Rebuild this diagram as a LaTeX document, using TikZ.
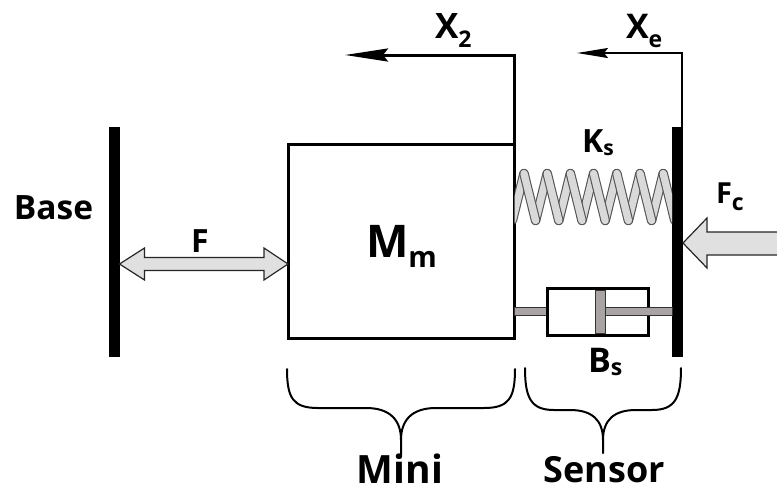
\documentclass[tikz,border=0pt]{standalone}
\usepackage{fontspec}
\setmainfont{Open Sans}
\usetikzlibrary{arrows.meta,calc}
\definecolor{springfill}{HTML}{D9D9D9}
\definecolor{springline}{HTML}{555555}
\definecolor{rodgray}{HTML}{A8A4A4}
\definecolor{arrowfill}{HTML}{E0E0E0}
\newcommand{\lsub}[3]{\raisebox{-#1}{\fontsize{#2}{#2}\selectfont #3}}
\newcommand{\fs}[1]{\fontsize{#1}{#1}\selectfont}
\begin{document}
\begin{tikzpicture}[x=1pt,y=-1pt,
  wall/.style={fill=black,minimum width=11pt,minimum height=230pt,inner sep=0pt,outer sep=0pt},
  lbl/.style={font=\bfseries,inner sep=0pt,outer sep=0pt},
  rod/.style={fill=rodgray,draw=black!80,line width=0.8pt},
  blockarrow/.style={fill=arrowfill,draw=black!85,line width=1.2pt,line join=miter},
  bracestyle/.style={line width=2pt,draw=black,line cap=round},
  coilout/.style={draw=springline,line width=9.5pt,line cap=round},
  coilin/.style={draw=springfill,line width=7.3pt,line cap=round}]
\useasboundingbox (0,0) rectangle (777,491);

% walls and mass
\node[wall] (bwall) at (114,242) {};
\node[wall] (swall) at (677.5,242) {};
\node[draw,line width=3pt,minimum width=226.5pt,minimum height=194pt,inner sep=0pt,outer sep=0pt] (mass) at (401.25,241) {};

% labels
\node[lbl,anchor=base] (baselbl) at (53.5,219) {\fs{33.5}Base};
\node[lbl,anchor=base] (flbl) at (200,252) {\fs{32}F};
\node[lbl,anchor=base west] (mlbl) at (366,257) {\fs{45}M\lsub{10pt}{29}{m}};
\node[lbl,anchor=base west] (kslbl) at (582,152) {\fs{32}K\lsub{3pt}{21}{s}};
\node[lbl,anchor=base west] (bslbl) at (588,372) {\fs{34}B\lsub{3pt}{23}{s}};
\node[lbl,anchor=base west] (fclbl) at (716,203) {\fs{29}F\lsub{7pt}{23}{c}};
\node[lbl,anchor=base west] (x2lbl) at (435,38) {\fs{35}X\lsub{9pt}{23}{2}};
\node[lbl,anchor=base west] (xelbl) at (626,38) {\fs{34}X\lsub{9pt}{23}{e}};
\node[lbl,anchor=base] (minilbl) at (400,483) {\fs{39}Mini};
\node[lbl,anchor=base] (senslbl) at (604,482) {\fs{36}Sensor};

% displacement arrows
\coordinate (x2tip) at (345,55);
\coordinate (xetip) at (577,53);
\draw[line width=3pt,-{Stealth[length=43pt,width=13pt,inset=5pt]}] (mass.north east) |- (x2tip);
\draw[line width=2pt,-{Stealth[length=31pt,width=10pt,inset=4pt]}] ($(swall.north east)+(-1,0)$) |- (xetip);

% spring (ribbon zigzag between mass and sensor wall)
\coordinate (ks1) at (mass.east |- 0,197);
\coordinate (ks2) at (swall.west |- 0,197);
\begin{scope}
  \clip (ks1 |- 0,160) rectangle (ks2 |- 0,235);
  \foreach \k in {0,...,6}{
    \pgfmathsetmacro{\xt}{524+23.2*\k}
    \draw[coilout] (\xt-11.6,220.5) -- (\xt,173.5);
    \draw[coilin] (\xt-11.6,220.5) -- (\xt,173.5);
  }
  \foreach \k in {0,...,6}{
    \pgfmathsetmacro{\xt}{524+23.2*\k}
    \draw[coilout] (\xt,173.5) -- (\xt+11.6,220.5);
    \draw[coilin] (\xt,173.5) -- (\xt+11.6,220.5);
  }
\end{scope}

% damper
\draw[rod] (514.5,307) rectangle (547,315);
\node[draw,line width=3pt,minimum width=101pt,minimum height=47pt,inner sep=0pt,outer sep=0pt] (cyl) at (597.5,311.5) {};
\node[rod,minimum width=10pt,minimum height=43pt,inner sep=0pt] (piston) at (600,311.5) {};
\draw[rod] (piston.east |- 0,307) rectangle (672,315);

% force F (double block arrow)
\coordinate (fl) at (bwall.east |- 0,264);
\coordinate (fr) at (mass.west |- 0,264);
\draw[blockarrow] (fl) -- ++(25,-16) -- ++(0,9.5) -- ($(fr)+(-24,-6.5)$) -- ++(0,-9.5) -- (fr)
  -- ++(-24,16) -- ++(0,-9.5) -- ($(fl)+(25,6.5)$) -- ++(0,9.5) -- cycle;

% force Fc
\coordinate (fct) at (swall.east |- 0,243);
\draw[blockarrow] (fct) -- ++(24,-25) -- ++(0,14) -- (790,232) -- (790,255) -- ($(fct)+(24,12)$) -- ++(0,13) -- cycle;

% braces
\coordinate (mbl) at (287,369);
\coordinate (mbr) at (515,369);
\coordinate (mbt) at (401,455);
\draw[bracestyle] (mbl) .. controls (287,398) and (293,408) .. (318,408) -- (366,408)
  .. controls (390,408) and (401,420) .. (401,440) -- (mbt);
\draw[bracestyle] (mbr) .. controls (515,398) and (509,408) .. (484,408) -- (436,408)
  .. controls (412,408) and (401,420) .. (401,440);
\coordinate (sbl) at (525,368);
\coordinate (sbr) at (681,368);
\coordinate (sbt) at (603,453);
\draw[bracestyle] (sbl) .. controls (525,398) and (531,410) .. (554,410) -- (570,410)
  .. controls (592,410) and (603,420) .. (603,440) -- (sbt);
\draw[bracestyle] (sbr) .. controls (681,398) and (675,410) .. (652,410) -- (636,410)
  .. controls (614,410) and (603,420) .. (603,440);
\end{tikzpicture}
\end{document}
